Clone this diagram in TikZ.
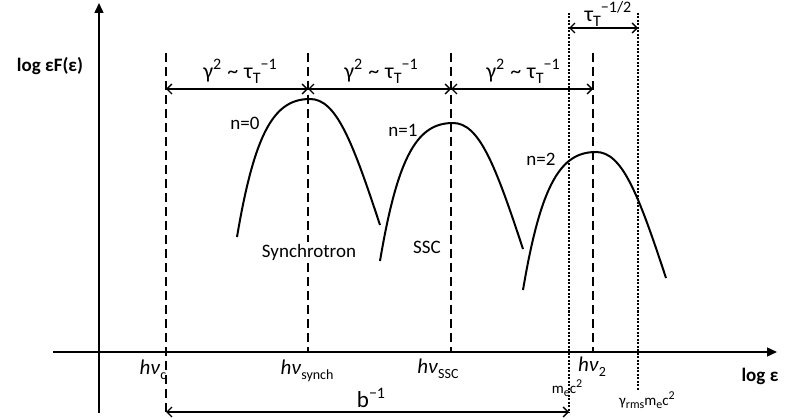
\documentclass[tikz,border=0pt]{standalone}
\usepackage{fontspec}
\setmainfont{Carlito}
\usetikzlibrary{arrows.meta}
\newcommand\myup[1]{\raisebox{0.42em}{\fontsize{14}{14}\selectfont #1}}
\newcommand\mydn[1]{\raisebox{-0.22em}{\fontsize{14}{14}\selectfont #1}}
\newcommand\mybigup[1]{\raisebox{0.42em}{\fontsize{16}{16}\selectfont #1}}
\newcommand\mybigdn[1]{\raisebox{-0.2em}{\fontsize{16}{16}\selectfont #1}}
\newcommand\myups[1]{\raisebox{0.4em}{\fontsize{12}{12}\selectfont #1}}
\newcommand\mydns[1]{\raisebox{-0.2em}{\fontsize{12}{12}\selectfont #1}}
\newcommand\gtau{{\fontsize{22}{24}\selectfont γ\mybigup{2}\hspace{6pt}\textasciitilde\hspace{6pt}τ\mybigdn{T}\mybigup{−1}}}
\begin{document}
\begin{tikzpicture}[x=1pt,y=-1pt,
  ax/.style={line width=1.4pt,-{Triangle[length=10pt,width=9pt]}},
  dsh/.style={line width=1.2pt,dash pattern=on 9pt off 5pt},
  dt/.style={line width=1.2pt,dash pattern=on 2pt off 1.5pt},
  dim/.style={line width=1.3pt,{Straight Barb[length=5pt,width=10pt]}-{Straight Barb[length=5pt,width=10pt]}},
  crv/.style={line width=2pt},
  lbl/.style={font=\fontsize{19}{21}\selectfont, inner sep=1pt},
  sml/.style={font=\fontsize{15}{17}\selectfont, inner sep=1pt},
  bld/.style={font=\fontsize{19}{21}\selectfont\bfseries, inner sep=1pt},
  hnu/.style={font=\fontsize{21}{23}\selectfont, inner sep=1pt},
]
\useasboundingbox (0,0) rectangle (789,419);
% axes
\coordinate (yb) at (99,413); \coordinate (yt) at (99,3);
\coordinate (xl) at (53,352); \coordinate (xr) at (777,352);
\draw[ax] (yb) -- (yt);
\draw[ax] (xl) -- (xr);
% dashed lines
\coordinate (d0t) at (166,53); \coordinate (d0b) at (166,413);
\coordinate (d1t) at (308,53); \coordinate (d1b) at (308,352);
\coordinate (d2t) at (451,53); \coordinate (d2b) at (451,352);
\coordinate (d3t) at (593,53); \coordinate (d3b) at (593,352);
\draw[dsh] (d0t) -- (d0b);
\draw[dsh] (d1t) -- (d1b);
\draw[dsh] (d2t) -- (d2b);
\draw[dsh] (d3t) -- (d3b);
% dotted lines
\coordinate (e1t) at (569,13); \coordinate (e1b) at (569,413);
\coordinate (e2t) at (638,13); \coordinate (e2b) at (638,391);
\draw[dt] (e1t) -- (e1b);
\draw[dt] (e2t) -- (e2b);
% dimension arrows
\coordinate (a0) at (166,89); \coordinate (a1) at (308,89);
\coordinate (a2) at (451,89); \coordinate (a3) at (593,89);
\draw[dim] (a0) -- (a1);
\draw[dim] (a1) -- (a2);
\draw[dim] (a2) -- (a3);
\coordinate (t0) at (569,28); \coordinate (t1) at (638,28);
\draw[dim] (t0) -- (t1);
\coordinate (b0) at (166,412); \coordinate (b1) at (569,412);
\draw[dim] (b0) -- (b1);
% labels for arrows
\node[inner sep=1pt] (g1) at (240,71) {\gtau};
\node[inner sep=1pt] (g2) at (381,71) {\gtau};
\node[inner sep=1pt] (g3) at (523,71) {\gtau};
\node[inner sep=1pt,font=\fontsize{22}{24}\selectfont] (g4) at (608,14) {τ\mybigdn{T}\mybigup{−1/2}};
\node[inner sep=1pt,font=\fontsize{23}{25}\selectfont] (bl) at (371,398) {b\mybigup{−1}};
% curves
\draw[crv] (237,237) .. controls (255,130) and (275,99) .. (310,99) .. controls (336,99) and (352,140) .. (380,225);
\begin{scope}[shift={(143,24)}]
\draw[crv] (237,237) .. controls (255,130) and (275,99) .. (310,99) .. controls (336,99) and (352,140) .. (380,225);
\end{scope}
\begin{scope}[shift={(286,53)}]
\draw[crv] (237,237) .. controls (255,130) and (275,99) .. (310,99) .. controls (336,99) and (352,140) .. (380,225);
\end{scope}
\node[lbl] (n0) at (245,123) {n=0};
\node[lbl] (n1) at (403,130) {n=1};
\node[lbl] (n2) at (541,159) {n=2};
\node[lbl,fill=white,inner sep=2pt] (syn) at (309,252) {Synchrotron};
\node[lbl] (ssc) at (427,247) {SSC};
% axis labels
\node[bld] (ylab) at (50,66) {log εF(ε)};
\node[bld] (xlab) at (760,376) {log ε};
% tick labels
\node[hnu] (hc) at (153,370) {\textit{hν}\mydn{c}};
\node[hnu] (hs) at (307,371) {\textit{hν}\mydn{synch}};
\node[hnu] (hssc) at (438,369) {\textit{hν}\mydn{SSC}};
\node[hnu] (h2) at (592,367) {\textit{hν}\mydn{2}};
\node[sml] (me) at (567,388) {m\mydns{e}c\myups{2}};
\node[sml] (gr) at (647,400) {γ\mydns{rms}m\mydns{e}c\myups{2}};
\end{tikzpicture}
\end{document}
